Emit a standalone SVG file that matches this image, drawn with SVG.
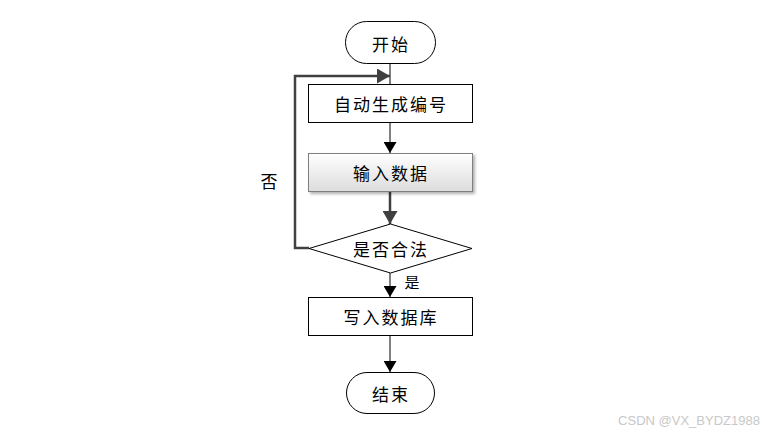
<svg xmlns="http://www.w3.org/2000/svg" width="769" height="434" viewBox="0 0 769 434">
<style>
text{font-family:"Noto Sans CJK SC","Noto Sans",sans-serif;font-size:17px;letter-spacing:2px;fill:#000;text-anchor:middle;dominant-baseline:central}
.n{fill:#fff;stroke:#000;stroke-width:1}
.c{fill:none;stroke:#000;stroke-width:1}
.g{fill:none;stroke:#404040;stroke-width:2.5}
</style>
<defs>
<marker id="ab" markerWidth="11" markerHeight="13" refX="11" refY="6.5" orient="auto" markerUnits="userSpaceOnUse"><path d="M0,0 L11,6.5 L0,13 Z" fill="#000"/></marker>
<marker id="ag" markerWidth="13" markerHeight="15" refX="13" refY="7.5" orient="auto" markerUnits="userSpaceOnUse"><path d="M0,0 L13,7.5 L0,15 Z" fill="#404040"/></marker>
<linearGradient id="gr" x1="0" y1="0" x2="0" y2="1"><stop offset="0" stop-color="#ffffff"/><stop offset="1" stop-color="#dcdcdc"/></linearGradient>
<filter id="sh" x="-10%" y="-20%" width="130%" height="150%"><feDropShadow dx="2" dy="2" stdDeviation="1.5" flood-color="#000" flood-opacity="0.3"/></filter>
</defs>
<rect width="769" height="434" fill="#fff"/>
<g id="connectors">
<line class="c" x1="390" y1="64" x2="390" y2="84"/>
<line class="c" x1="390" y1="122" x2="390" y2="153" marker-end="url(#ab)"/>
<line class="g" x1="390" y1="192" x2="390" y2="224" marker-end="url(#ag)"/>
<polyline class="g" points="309,248 295,248 295,76 390,76" marker-end="url(#ag)"/>
<line class="c" x1="390" y1="273" x2="390" y2="297" marker-end="url(#ab)"/>
<line class="c" x1="390" y1="335" x2="390" y2="372" marker-end="url(#ab)"/>
<text x="269" y="180" style="letter-spacing:0">否</text>
<text x="412" y="281" style="font-size:15px;letter-spacing:0">是</text>
</g>
<g id="start"><rect class="n" x="345.5" y="21.5" width="90" height="42" rx="21"/><text x="391" y="43">开始</text></g>
<g id="gen"><rect class="n" x="308.5" y="84.5" width="164" height="38"/><text x="391" y="103">自动生成编号</text></g>
<g id="input"><rect x="308.5" y="153.5" width="164" height="38" fill="url(#gr)" stroke="#7f7f7f" filter="url(#sh)"/><text x="391" y="172">输入数据</text></g>
<g id="check"><polygon class="n" points="390.5,224 472,248.5 390.5,273 309,248.5"/><text x="391" y="248">是否合法</text></g>
<g id="write"><rect class="n" x="308.5" y="297.5" width="164" height="38"/><text x="391" y="316">写入数据库</text></g>
<g id="end"><rect class="n" x="346.5" y="372.5" width="88" height="41" rx="20.5"/><text x="391" y="393">结束</text></g>
<text x="689" y="420" style="font-family:'Liberation Sans',sans-serif;font-size:13px;letter-spacing:0;fill:#c8c8c8">CSDN @VX_BYDZ1988</text>
</svg>
